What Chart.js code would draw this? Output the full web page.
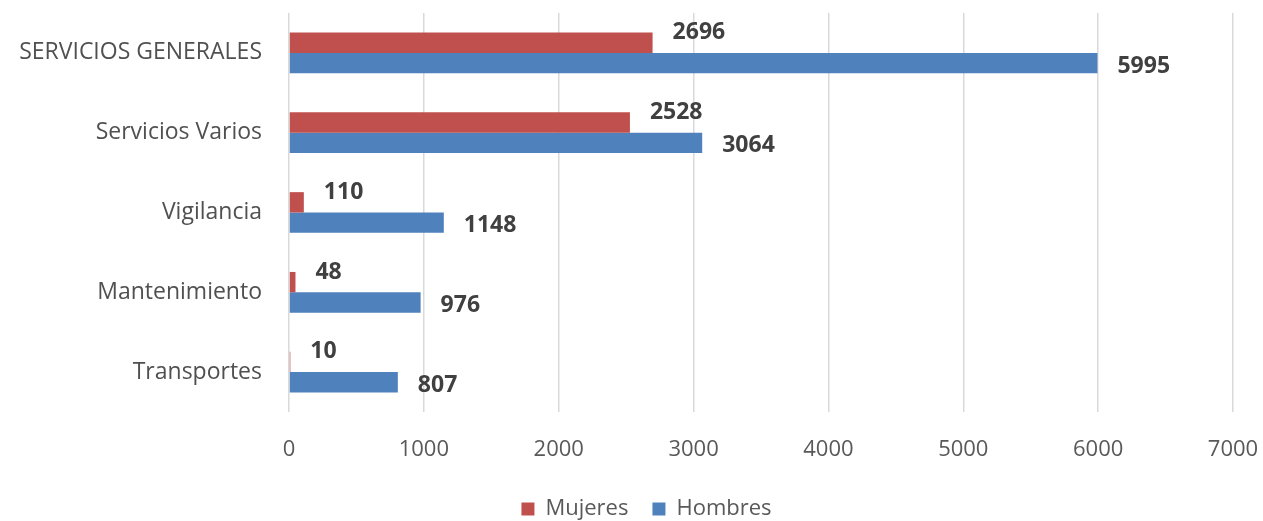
<!DOCTYPE html>
<html>
<head>
<meta charset="utf-8">
<script src="https://cdn.jsdelivr.net/npm/chart.js@4.4.1/dist/chart.umd.min.js"></script>
<style>
  body{margin:0;background:#fff;}
  #wrap{width:1263px;height:521px;}
</style>
</head>
<body>
<div id="wrap"><canvas id="chartPuestos" width="1263" height="521"></canvas></div>
<script>
// datos
const categorias = ["SERVICIOS GENERALES","Servicios Varios","Vigilancia","Mantenimiento","Transportes"];
const mujeres = [2696,2528,110,48,10];
const hombres = [5995,3064,1148,976,807];
const ticksX = [0,1000,2000,3000,4000,5000,6000,7000];

// etiquetas de valor al final de cada barra
const etiquetasValor = {
    id:"etiquetasValor",
    afterDatasetsDraw(chart){
        const ctx = chart.ctx;
        ctx.save();
        ctx.font = "bold 23px 'Open Sans'";
        ctx.fillStyle = "#404040";
        ctx.textAlign = "left";
        ctx.textBaseline = "middle";
        chart.data.datasets.forEach((ds,i)=>{
            chart.getDatasetMeta(i).data.forEach((bar,j)=>{
                const dy = i===0 ? -10 : 3;
                ctx.fillText(ds.data[j], bar.x+20, bar.y+dy);
            });
        });
        ctx.restore();
    }
};

// mover la leyenda un poco (en el original no esta centrada en el canvas)
const moverLeyenda = {
    id:"moverLeyenda",
    afterLayout(chart){
        const lg = chart.legend;
        if(!lg) return;
        lg.left += 30; lg.right += 30;
        lg.top += 3; lg.bottom += 3;
    }
};

new Chart(
    document.getElementById("chartPuestos"),
    {
        type:"bar",
        data:{
            labels:categorias,
            datasets:[
                {label:"Mujeres",data:mujeres,backgroundColor:"#c0504d"},
                {label:"Hombres",data:hombres,backgroundColor:"#4f81bd"}
            ]
        },
        options:{
            indexAxis:"y",
            responsive:false,
            animation:false,
            categoryPercentage:0.51,
            barPercentage:1,
            layout:{padding:{top:13,right:30,left:0,bottom:-6}},
            scales:{
                x:{
                    min:0,
                    max:7000,
                    afterBuildTicks(scale){
                        scale.ticks = ticksX.map(v=>({value:v}));
                    },
                    afterFit(scale){
                        scale.height = 59;
                        scale.paddingLeft = 0;
                        scale.paddingRight = 0;
                    },
                    grid:{color:"#d9d9d9",lineWidth:1.5,drawTicks:false},
                    border:{display:false},
                    ticks:{
                        padding:25,
                        color:"#595959",
                        callback:(v)=>String(v),
                        font:{family:"'Open Sans'",size:22}
                    }
                },
                y:{
                    afterFit(scale){
                        scale.width = 289;
                        scale.paddingTop = 0;
                        scale.paddingBottom = 0;
                    },
                    grid:{display:false,drawTicks:false},
                    border:{display:false},
                    ticks:{
                        padding:27,
                        color:"#505050",
                        font:{family:"'Open Sans'",size:23}
                    }
                }
            },
            plugins:{
                legend:{
                    position:"bottom",
                    labels:{
                        boxWidth:13,
                        boxHeight:13,
                        padding:24,
                        color:"#595959",
                        font:{family:"'Open Sans'",size:22}
                    }
                },
                tooltip:{enabled:false}
            }
        },
        plugins:[etiquetasValor,moverLeyenda]
    }
);
</script>
</body>
</html>
